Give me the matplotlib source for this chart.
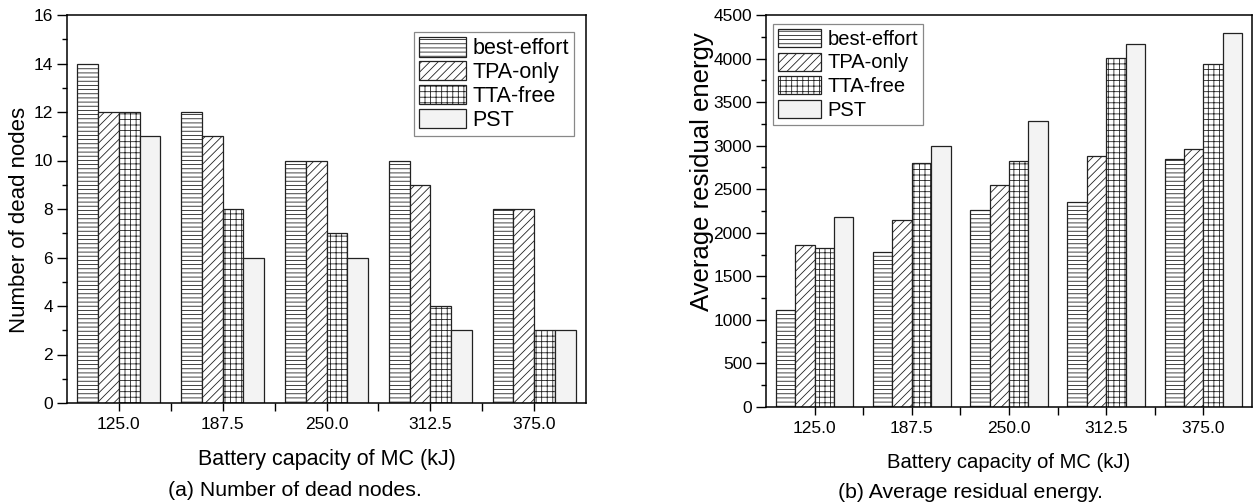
import matplotlib
matplotlib.use("Agg")
import matplotlib.pyplot as plt
import numpy as np
from matplotlib.ticker import MultipleLocator

plt.rcParams['font.family'] = ['Liberation Sans', 'DejaVu Sans']
plt.rcParams['hatch.linewidth'] = 0.6

categories = ["125.0", "187.5", "250.0", "312.5", "375.0"]
series_names = ["best-effort", "TPA-only", "TTA-free", "PST"]

dead_best_effort = [14, 12, 10, 10, 8]
dead_tpa_only = [12, 11, 10, 9, 8]
dead_tta_free = [12, 8, 7, 4, 3]
dead_pst = [11, 6, 6, 3, 3]

energy_best_effort = [1115, 1785, 2265, 2358, 2843]
energy_tpa_only = [1862, 2143, 2553, 2880, 2965]
energy_tta_free = [1825, 2800, 2828, 4011, 3934]
energy_pst = [2180, 3000, 3287, 4168, 4290]

hatches = ['----', '////', '+++', '']
faces = ['white', 'white', 'white', '#f3f3f3']
edge = '#222222'

fig = plt.figure(figsize=(12.56, 5.04), dpi=100)
ax1 = fig.add_axes([67/1256, 1-403/504, (586-67)/1256, (403-15)/504])
ax2 = fig.add_axes([766/1256, 1-407/504, (1252-766)/1256, (407-15)/504])

x = np.arange(len(categories))
w = 0.2


def draw(ax, data, ylim, ymajor, yminor, ylabel, ylsize, xlsize,
         legend_loc, anchor, legsize, legspacing):
    for i, (vals, name) in enumerate(zip(data, series_names)):
        ax.bar(x + (i - 1.5) * w, vals, w, label=name, color=faces[i],
               edgecolor=edge, linewidth=0.9, hatch=hatches[i])
    ax.set_xlim(-0.5, len(categories) - 0.5)
    ax.set_ylim(*ylim)
    ax.set_xticks(x)
    ax.set_xticklabels(categories)
    ax.set_xticks(x[:-1] + 0.5, minor=True)
    ax.yaxis.set_major_locator(MultipleLocator(ymajor))
    ax.yaxis.set_minor_locator(MultipleLocator(yminor))
    ax.tick_params(axis='both', which='major', direction='out', length=7,
                   width=1, labelsize=12.5, top=False, right=False, pad=3)
    ax.tick_params(axis='both', which='minor', direction='out', length=3.5,
                   width=1, top=False, right=False)
    ax.tick_params(axis='x', which='major', length=6, pad=4)
    ax.tick_params(axis='x', which='minor', length=6)
    for s in ax.spines.values():
        s.set_linewidth(1.1)
    ax.set_ylabel(ylabel, fontsize=ylsize)
    ax.set_xlabel("Battery capacity of MC (kJ)", fontsize=xlsize)
    leg = ax.legend(loc=legend_loc, bbox_to_anchor=anchor, borderaxespad=0,
                    fontsize=legsize, handlelength=2.15, handleheight=1.0,
                    labelspacing=legspacing, handletextpad=0.3, borderpad=0.25,
                    fancybox=False, framealpha=1, edgecolor='#888888')
    leg.get_frame().set_linewidth(0.9)
    return ax


draw(ax1, [dead_best_effort, dead_tpa_only, dead_tta_free, dead_pst],
     (0, 16), 2, 1, "Number of dead nodes", 16, 15.5,
     'upper right', (0.977, 0.956), 15.5, 0.08)
draw(ax2, [energy_best_effort, energy_tpa_only, energy_tta_free, energy_pst],
     (0, 4500), 500, 250, "Average residual energy", 18.5, 14.6,
     'upper left', (0.0145, 0.977), 14.5, 0.18)

ax1.xaxis.set_label_coords(0.5, -(460-403)/388)
ax2.xaxis.set_label_coords(0.5, -(462-407)/392)
for ax in (ax1, ax2):
    ax.xaxis.label.set_va('center')
    ax.yaxis.label.set_va('center')
ax1.yaxis.set_label_coords(-(67-20)/519, (403-220)/388)
ax2.yaxis.set_label_coords(-(766-702)/486, (407-172)/392)

fig.text(295/1256, 1-490/504, "(a) Number of dead nodes.", ha='center', va='center', fontsize=15.3)
fig.text(970/1256, 1-492/504, "(b) Average residual energy.", ha='center', va='center', fontsize=15.3)

fig.savefig("out.png", dpi=100)
